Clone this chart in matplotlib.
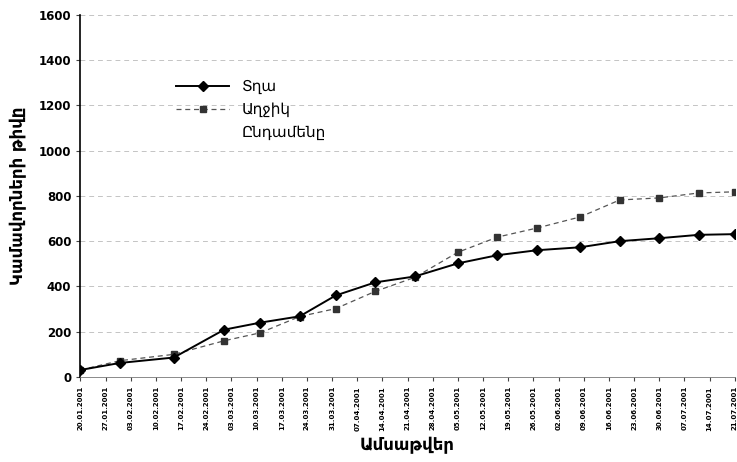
import datetime as dt

import matplotlib.pyplot as plt
import matplotlib.dates as mdates
from matplotlib.lines import Line2D

# Data
boy_dates = ["20.01.2001", "31.01.2001", "15.02.2001", "01.03.2001", "11.03.2001",
             "22.03.2001", "01.04.2001", "12.04.2001", "23.04.2001", "05.05.2001",
             "16.05.2001", "27.05.2001", "08.06.2001", "19.06.2001", "30.06.2001",
             "11.07.2001", "21.07.2001"]
boys = [31, 62, 86, 209, 240, 268, 360, 418, 444, 502,
        538, 560, 573, 600, 613, 628, 631]
girls = [31, 72, 100, 160, 195, 267, 302, 378, 440, 551,
         618, 658, 707, 782, 791, 813, 818]

series_labels = ["Տղա", "Աղջիկ", "Ընդամենը"]
y_ticks = [0, 200, 400, 600, 800, 1000, 1200, 1400, 1600]
x_start = "20.01.2001"
x_end = "21.07.2001"


def to_date(s):
    return dt.datetime.strptime(s, "%d.%m.%Y")


xs = [to_date(d) for d in boy_dates]

fig = plt.figure(figsize=(7.37, 4.62), dpi=100)
ax = fig.add_axes([0.109, 0.184, 0.888, 0.784])

for y in y_ticks[1:]:
    ax.axhline(y, color="#c4c4c4", lw=0.7, ls=(0, (5, 4)), zorder=0)

ax.plot(xs, girls, color="#555555", lw=0.9, ls=(0, (4, 3)),
        marker="s", ms=4, mfc="#333333", mec="#333333", zorder=2)
ax.plot(xs, boys, color="black", lw=1.4, marker="D", ms=5,
        mfc="black", mec="black", zorder=3)

ax.set_xlim(to_date(x_start), to_date(x_end))
ax.set_ylim(0, 1600)
ax.set_yticks(y_ticks)

ax.xaxis.set_major_locator(mdates.DayLocator(interval=7))
ax.xaxis.set_major_formatter(mdates.DateFormatter("%d.%m.%Y"))
ax.set_xticks([to_date(x_start) + dt.timedelta(days=7 * k) for k in range(27)])
plt.setp(ax.get_xticklabels(), rotation=90, fontsize=5, fontweight="bold")
plt.setp(ax.get_yticklabels(), fontsize=8.5, fontweight="bold")
ax.tick_params(axis="both", length=3, width=0.8, color="#444444")

for side in ["top", "right"]:
    ax.spines[side].set_visible(False)
ax.spines["left"].set_linewidth(1.2)
ax.spines["bottom"].set_color("#777777")
ax.spines["bottom"].set_linewidth(0.6)

ax.set_ylabel("Կամավորների թիվը", fontsize=12, fontweight="bold", labelpad=8)
ax.set_xlabel("Ամսաթվեր", fontsize=12, fontweight="bold", labelpad=4)

handles = [
    Line2D([], [], color="black", lw=1.4, marker="D", ms=5),
    Line2D([], [], color="#555555", lw=0.9, ls=(0, (4, 3)), marker="s", ms=4,
           mfc="#333333", mec="#333333"),
    Line2D([], [], color="none"),
]
ax.legend(handles, series_labels, loc="upper left", bbox_to_anchor=(0.125, 0.86),
          frameon=False, fontsize=11, handlelength=3.5, labelspacing=0.5)

fig.savefig("out.png", dpi=100)
